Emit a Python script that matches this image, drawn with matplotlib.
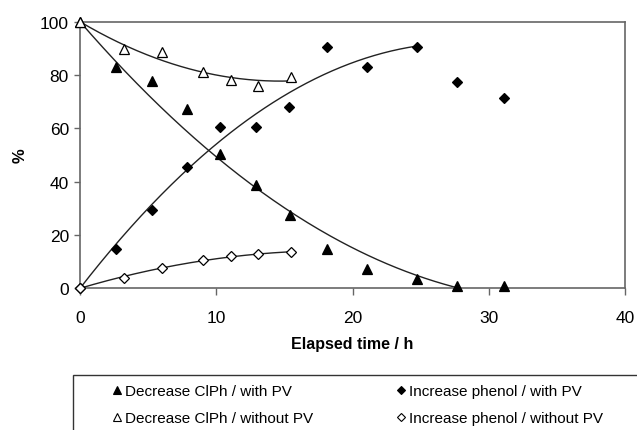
import numpy as np
import matplotlib
matplotlib.use("Agg")
import matplotlib.pyplot as plt
from matplotlib.lines import Line2D
from matplotlib.patches import Rectangle

plt.rcParams['font.family'] = ['Liberation Sans', 'DejaVu Sans']

# Data
t_clph_pv = [0, 2.64, 5.26, 7.83, 10.27, 12.9, 15.4, 18.1, 21.1, 24.7, 27.7, 31.1]
clph_pv = [100, 83.1, 77.6, 67.3, 50.4, 38.7, 27.5, 14.7, 7.2, 3.5, 0.7, 0.7]

t_clph_nopv = [0, 3.23, 6.04, 9.05, 11.06, 13.04, 15.5]
clph_nopv = [100, 89.8, 88.5, 81.0, 78.2, 75.8, 79.4]

t_phen_pv = [0, 2.64, 5.26, 7.83, 10.27, 12.9, 15.36, 18.15, 21.1, 24.7, 27.7, 31.1]
phen_pv = [0, 14.7, 29.5, 45.6, 60.4, 60.4, 67.9, 90.6, 83.1, 90.6, 77.3, 71.3]

t_phen_nopv = [0, 3.23, 6.04, 9.05, 11.06, 13.04, 15.5]
phen_nopv = [0, 3.75, 7.5, 10.7, 12.2, 12.75, 13.5]

# trend lines: points used for the fit / extent of the drawn line
fit_max_clph_pv, draw_max_clph_pv = 31.1, 27.7
fit_max_phen_pv, draw_max_phen_pv = 24.7, 24.7

labels = ["Decrease ClPh / with PV", "Decrease ClPh / without PV",
          "Increase phenol / with PV", "Increase phenol / without PV"]

W, H = 637, 431
fig = plt.figure(figsize=(W / 100, H / 100), dpi=100)
ax = fig.add_axes([80 / W, 1 - 289.3 / H, 545 / W, 266.6 / H])


def trend(x, y, fit_max, draw_max):
    # 2nd-order polynomial trend line with intercept fixed to the first value
    x = np.asarray(x, float)
    y = np.asarray(y, float)
    m = x <= fit_max + 1e-9
    x0, y0 = x[m], y[m]
    b0 = y0[0]
    A = np.column_stack([x0, x0 ** 2])
    (b, c), *_ = np.linalg.lstsq(A, y0 - b0, rcond=None)
    xs = np.linspace(0, draw_max, 200)
    ys = b0 + b * xs + c * xs ** 2
    ax.plot(xs, ys, color='#222222', lw=1.0, zorder=2)


trend(t_clph_pv, clph_pv, fit_max_clph_pv, draw_max_clph_pv)
trend(t_phen_pv, phen_pv, fit_max_phen_pv, draw_max_phen_pv)
trend(t_clph_nopv, clph_nopv, max(t_clph_nopv), max(t_clph_nopv))
trend(t_phen_nopv, phen_nopv, max(t_phen_nopv), max(t_phen_nopv))

kw_tri = dict(marker='^', ms=7.5, ls='none', mew=0.9, zorder=3, clip_on=False)
kw_dia = dict(marker='D', ms=5.4, ls='none', mew=0.9, zorder=3, clip_on=False)
ax.plot(t_clph_pv, clph_pv, mfc='black', mec='black', **kw_tri)
ax.plot(t_clph_nopv, clph_nopv, mfc='white', mec='black', **kw_tri)
ax.plot(t_phen_pv, phen_pv, mfc='black', mec='black', **kw_dia)
ax.plot(t_phen_nopv, phen_nopv, mfc='white', mec='black', **kw_dia)

ax.set_xlim(0, 40)
ax.set_ylim(0, 100)
ax.set_xticks([0, 10, 20, 30, 40])
ax.set_yticks([0, 20, 40, 60, 80, 100])
for s in ax.spines.values():
    s.set_color('#666666')
    s.set_linewidth(1.2)
ax.tick_params(axis='x', direction='out', length=5, width=1, color='#666666',
               pad=10.5, labelsize=12.5)
ax.tick_params(axis='y', direction='out', length=4, width=1, color='#666666',
               pad=4, labelsize=12.5)

ax.set_xlabel("Elapsed time / h", fontsize=11.5, fontweight='bold', va='center')
ax.xaxis.set_label_coords(0.5, -(345 - 289.3) / 266.6)
ax.set_ylabel("%", fontsize=12, fontweight='bold', va='center')
ax.yaxis.set_label_coords((20 - 80) / 545, 0.5)

# legend box (extends past figure edges)
fig.patches.append(Rectangle((72.7 / W, -0.2), 1.2, (1 - 375.7 / H) + 0.2,
                             transform=fig.transFigure, fill=False,
                             edgecolor='#333333', lw=1.0, clip_on=False))


def handle(filled, marker, ms):
    return Line2D([], [], marker=marker, ls='none', ms=ms, mew=0.8,
                  mfc='black' if filled else 'white', mec='black')


leg_kw = dict(loc='upper left', frameon=False, fontsize=11.0, borderpad=0,
              handlelength=0.55, handletextpad=0.25, labelspacing=0.88,
              borderaxespad=0, bbox_transform=fig.transFigure)
top_y = 1 - 385.0 / H
leg1 = ax.legend([handle(True, '^', 6), handle(False, '^', 6)], labels[:2],
                 bbox_to_anchor=(112.5 / W, top_y), **leg_kw)
ax.add_artist(leg1)
leg2 = ax.legend([handle(True, 'D', 4.5), handle(False, 'D', 4.5)], labels[2:],
                 bbox_to_anchor=(397.2 / W, top_y), **leg_kw)

fig.savefig("out.png", dpi=100)
